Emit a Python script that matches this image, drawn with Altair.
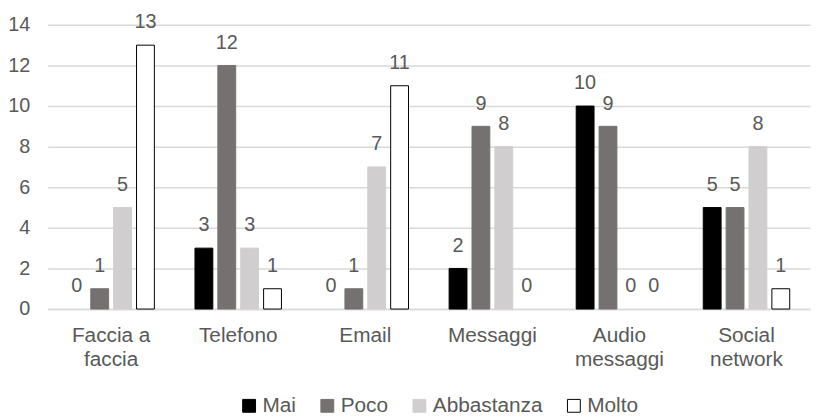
import altair as alt
import pandas as pd

categories = ["Faccia a|faccia", "Telefono", "Email", "Messaggi", "Audio|messaggi", "Social|network"]
series = ["Mai", "Poco", "Abbastanza", "Molto"]
mai = [0, 3, 0, 2, 10, 5]
poco = [1, 12, 1, 9, 9, 5]
abbastanza = [5, 3, 7, 8, 0, 8]
molto = [13, 1, 11, 0, 0, 1]
fill_colors = ["#000000", "#767171", "#d0cece", "#ffffff"]
stroke_colors = ["#000000", "#767171", "#d0cece", "#000000"]
y_ticks = [0, 2, 4, 6, 8, 10, 12, 14]

rows = []
for s, vals in zip(series, [mai, poco, abbastanza, molto]):
    for c, v in zip(categories, vals):
        rows.append({"Categoria": c, "Serie": s, "Valore": v})
df = pd.DataFrame(rows)

FONT = "Liberation Sans"
TXT = "#595959"

x_enc = alt.X("Categoria:N", sort=categories, title=None,
              scale=alt.Scale(paddingInner=0.28, paddingOuter=0.14),
              axis=alt.Axis(labelExpr="split(datum.label, '|')", labelAngle=0,
                            labelFontSize=21, labelColor=TXT, labelFont=FONT,
                            labelLineHeight=24, labelPadding=16,
                            ticks=False, domainColor="#d9d9d9", domainWidth=1.5,
                            grid=False, labelBaseline="top"))
xo_enc = alt.XOffset("Serie:N", sort=series,
                     scale=alt.Scale(paddingInner=0.22, paddingOuter=0.11))
y_enc = alt.Y("Valore:Q", title=None,
              scale=alt.Scale(domain=[0, 14], nice=False),
              axis=alt.Axis(values=y_ticks, domain=False, ticks=False, tickSize=0,
                            labelFontSize=20, labelColor=TXT, labelFont=FONT,
                            labelPadding=18, gridColor="#d9d9d9", gridWidth=1.5))

legend_cfg = dict(title=None, orient="none", direction="horizontal",
                  legendX=193, legendY=374,
                  symbolType="square", symbolSize=169, symbolStrokeWidth=1,
                  labelFontSize=21, labelColor=TXT, labelFont=FONT,
                  labelOffset=3, columnPadding=21)

bars = alt.Chart(df).mark_bar().encode(
    x=x_enc,
    xOffset=xo_enc,
    y=y_enc,
    color=alt.Color("Serie:N", sort=series,
                    scale=alt.Scale(domain=series, range=fill_colors),
                    legend=alt.Legend(**legend_cfg)),
    stroke=alt.Stroke("Serie:N", sort=series,
                      scale=alt.Scale(domain=series, range=stroke_colors),
                      legend=alt.Legend(**legend_cfg)),
    strokeWidth=alt.condition("datum.Valore > 0", alt.value(1), alt.value(0)),
)

labels = alt.Chart(df).mark_text(
    fontSize=20, font=FONT, color=TXT, baseline="alphabetic", dy=-17
).encode(
    x=alt.X("Categoria:N", sort=categories),
    xOffset=alt.XOffset("Serie:N", sort=series),
    y=alt.Y("Valore:Q"),
    text=alt.Text("Valore:Q"),
)

chart = alt.layer(bars, labels).properties(
    width=770, height=287,
    autosize=alt.AutoSizeParams(type="none"),
    padding={"left": 40, "top": 15, "right": 3, "bottom": 107},
).configure_view(stroke=None)

chart.save("out.html", embed_options={"renderer": "svg", "actions": False})
